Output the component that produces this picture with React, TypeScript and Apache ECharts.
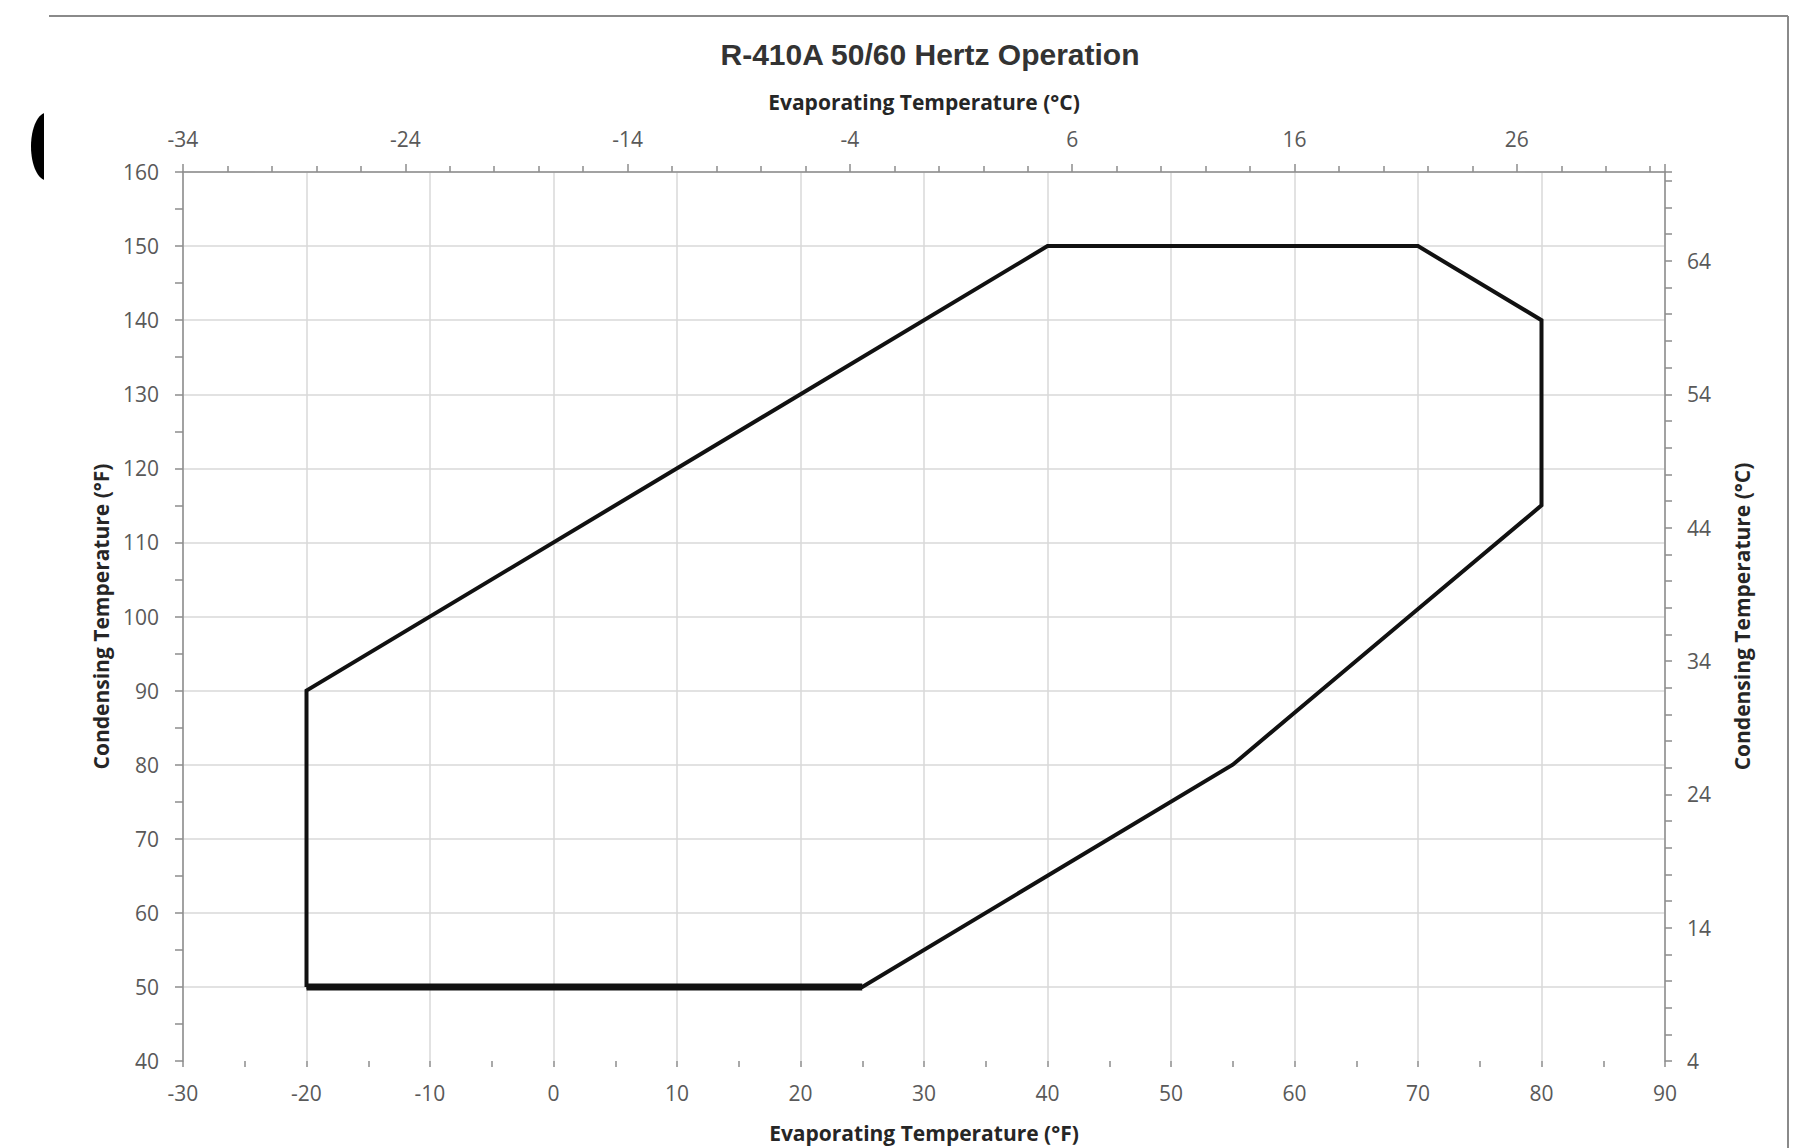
import React, { useEffect, useRef } from "react";
import * as echarts from "echarts";

// Operating envelope (°F): evaporating vs condensing temperature
const evapF = [-20, -20, 40, 70, 80, 80, 70, 60, 55, 25, -20];
const condF = [50, 90, 150, 150, 140, 115, 101, 87, 80, 50, 50];

// Secondary (°C) axis tick labels as printed on the chart
const topTickLabelsC = ["-34", "-24", "-14", "-4", "6", "16", "26"];
const rightTickLabelsC = ["4", "14", "24", "34", "44", "54", "64"];

const titleText = "R-410A 50/60 Hertz Operation";
const xNameF = "Evaporating Temperature (°F)";
const xNameC = "Evaporating Temperature (°C)";
const yNameF = "Condensing Temperature (°F)";
const yNameC = "Condensing Temperature (°C)";

const FONT = "'Open Sans', 'Noto Sans', sans-serif";
const AXIS_GRAY = "#8c8c8c";
const GRID_GRAY = "#d9d9d9";
const LABEL_GRAY = "#595959";

export default function App() {
  const ref = useRef<HTMLDivElement>(null);

  useEffect(() => {
    if (!ref.current) return;
    const chart = echarts.init(ref.current, null, { renderer: "svg" });
    const pairs = evapF.map((x, i) => [x, condF[i]]);
    const bottomEdge = pairs.filter((p) => p[1] === condF[0]);

    const labelStyle = { color: LABEL_GRAY, fontSize: 21, fontFamily: FONT };
    const nameStyle = { color: "#262626", fontSize: 21, fontWeight: "bold", fontFamily: FONT };
    const tickStyle = { color: AXIS_GRAY, width: 1.5 };

    const option: any = {
      animation: false,
      backgroundColor: "#ffffff",
      title: {
        text: titleText,
        left: 925,
        top: 34,
        textAlign: "center",
        textStyle: {
          fontFamily: "'Liberation Sans', Arial, sans-serif",
          fontSize: 30,
          fontWeight: "bold",
          color: "#333333",
        },
      },
      grid: { left: 183, right: 139, top: 172, bottom: 83 },
      xAxis: [
        {
          type: "value",
          position: "bottom",
          min: -30,
          max: 90,
          interval: 10,
          name: xNameF,
          nameLocation: "middle",
          nameGap: 61,
          nameTextStyle: nameStyle,
          axisLine: { show: false, onZero: false },
          axisTick: { show: true, length: 6, lineStyle: tickStyle },
          minorTick: { show: true, splitNumber: 2, length: 6, lineStyle: tickStyle },
          axisLabel: { ...labelStyle, margin: 21 },
          splitLine: { show: true, lineStyle: { color: GRID_GRAY, width: 1.5 } },
        },
        {
          type: "value",
          position: "top",
          min: -30,
          max: 90,
          interval: 18,
          name: xNameC,
          nameLocation: "middle",
          nameGap: 60,
          nameTextStyle: nameStyle,
          axisLine: { show: true, onZero: false, lineStyle: { color: AXIS_GRAY, width: 1.5 } },
          axisTick: { show: true, length: 8, lineStyle: tickStyle },
          minorTick: { show: true, splitNumber: 5, length: 6, lineStyle: tickStyle },
          axisLabel: {
            ...labelStyle,
            margin: 23,
            formatter: (_v: number, i: number) => topTickLabelsC[i] ?? "",
          },
          splitLine: { show: false },
        },
      ],
      yAxis: [
        {
          type: "value",
          position: "left",
          min: 40,
          max: 160,
          interval: 10,
          name: yNameF,
          nameLocation: "middle",
          nameGap: 72,
          nameRotate: 90,
          nameTextStyle: nameStyle,
          axisLine: { show: true, onZero: false, lineStyle: { color: AXIS_GRAY, width: 1.5 } },
          axisTick: { show: true, length: 8, lineStyle: tickStyle },
          minorTick: { show: true, splitNumber: 2, length: 8, lineStyle: tickStyle },
          axisLabel: { ...labelStyle, margin: 24 },
          splitLine: { show: true, showMinLine: false, lineStyle: { color: GRID_GRAY, width: 1.5 } },
        },
        {
          type: "value",
          position: "right",
          min: 40,
          max: 160,
          interval: 18,
          name: yNameC,
          nameLocation: "middle",
          nameGap: 66,
          nameRotate: 90,
          nameTextStyle: nameStyle,
          axisLine: { show: true, onZero: false, lineStyle: { color: AXIS_GRAY, width: 1.5 } },
          axisTick: { show: true, length: 7, lineStyle: tickStyle },
          minorTick: { show: true, splitNumber: 5, length: 7, lineStyle: tickStyle },
          axisLabel: {
            ...labelStyle,
            margin: 22,
            formatter: (_v: number, i: number) => rightTickLabelsC[i] ?? "",
          },
          splitLine: { show: false },
        },
      ],
      graphic: [
        {
          type: "line",
          shape: { x1: 49, y1: 16, x2: 1788, y2: 16 },
          style: { stroke: "#8a8a8a", lineWidth: 2 },
          silent: true,
        },
        {
          type: "line",
          shape: { x1: 1788, y1: 16, x2: 1788, y2: 1148 },
          style: { stroke: "#8a8a8a", lineWidth: 2 },
          silent: true,
        },
        {
          type: "ellipse",
          shape: { cx: 47, cy: 146.5, rx: 16, ry: 34 },
          style: { fill: "#000000" },
          z: 10,
          silent: true,
        },
        {
          type: "rect",
          shape: { x: 44, y: 105, width: 22, height: 85 },
          style: { fill: "#ffffff" },
          z: 11,
          silent: true,
        },
      ],
      series: [
        {
          type: "line",
          xAxisIndex: 0,
          yAxisIndex: 0,
          data: pairs,
          symbol: "none",
          showSymbol: false,
          silent: true,
          lineStyle: { color: "#111111", width: 4, join: "miter" },
        },
        {
          type: "line",
          xAxisIndex: 0,
          yAxisIndex: 0,
          data: bottomEdge,
          symbol: "none",
          showSymbol: false,
          silent: true,
          lineStyle: { color: "#111111", width: 7, join: "miter" },
        },
      ],
    };
    chart.setOption(option);
    return () => chart.dispose();
  }, []);

  return (
    <div
      ref={ref}
      style={{ position: "fixed", left: 0, top: 0, width: 1804, height: 1148, background: "#fff" }}
    />
  );
}
